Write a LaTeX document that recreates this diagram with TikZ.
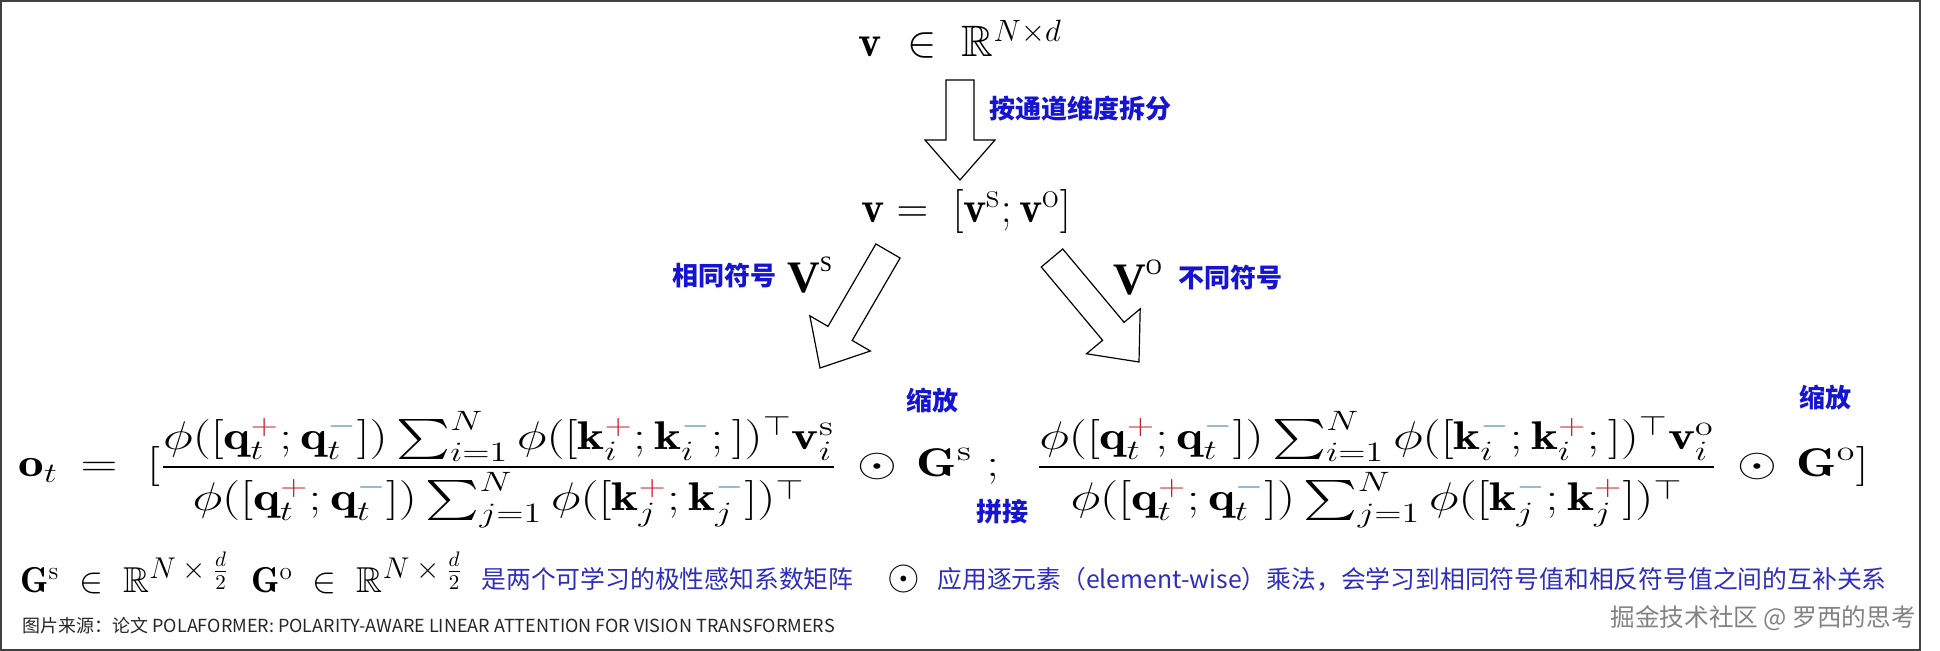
\documentclass[tikz,border=0pt]{standalone}
\usepackage{fix-cm}
\usepackage{amsmath,amssymb}
\usepackage{fontspec}
\usepackage{tikz}
\usetikzlibrary{calc,positioning}
\usepackage{xcolor}
\newfontfamily\cjk{Noto Sans CJK SC}
\newfontfamily\timesr{Liberation Serif}
\definecolor{labelblue}{RGB}{20,20,210}
\definecolor{textblue}{RGB}{45,45,190}
\definecolor{plusred}{RGB}{200,35,45}
\definecolor{minusblue}{RGB}{70,130,185}
\definecolor{markgray}{RGB}{130,130,130}
\newcommand{\pl}{{\color{plusred}+}}
\newcommand{\mn}{{\color{minusblue}-}}
\newcommand{\halfdim}{\mbox{\fontsize{15}{15}\selectfont$N\times\frac{d}{2}$}}
\newcommand{\bigsup}[1]{\mbox{\fontsize{18}{18}\selectfont #1}}
\newcommand{\hollowarrow}[2]{%
  \coordinate (headbase) at ($(#2)!20pt!(#1)$);
  \draw[arrowbody] ($(#1)!7pt!90:(#2)$) -- ($(headbase)!7pt!90:(#2)$)
    -- ($(headbase)!17.5pt!90:(#2)$) -- (#2)
    -- ($(headbase)!17.5pt!-90:(#2)$) -- ($(headbase)!7pt!-90:(#2)$)
    -- ($(#1)!7pt!-90:(#2)$) -- cycle;}

\begin{document}
\begin{tikzpicture}[x=0.5pt,y=-0.5pt,node distance=5pt,
  formula/.style={inner sep=0pt,font=\fontsize{22}{26}\selectfont},
  bigformula/.style={inner sep=0pt,font=\fontsize{20}{24}\selectfont},
  cnlabel/.style={inner sep=0pt,text=labelblue,font=\cjk\bfseries\fontsize{13}{15}\selectfont},
  vlabel/.style={inner sep=0pt,font=\timesr\bfseries\fontsize{22.5}{24}\selectfont},
  note/.style={inner sep=0pt,text=textblue,font=\cjk\fontsize{12.4}{15}\selectfont},
  arrowbody/.style={draw=black,fill=white,line width=0.6pt,line join=miter},
  frameline/.style={draw=black!75,line width=0.8pt}]
\useasboundingbox (0,0) rectangle (1940,651);
\draw[frameline] (1,1) rectangle (1920,650);

% value matrix and its split
\node[formula,anchor=base] (vdim) at (960,57) {$\mathbf{v}\ \in\ \mathbb{R}^{N\times d}$};
\node[formula,anchor=base] (vsplit) at (966,223) {$\mathbf{v}=\;[\mathbf{v}^{\bigsup{s}};\mathbf{v}^{\bigsup{o}}]$};
\coordinate (splittail) at (960,80);
\coordinate (splittip) at (960,180);
\hollowarrow{splittail}{splittip}
\node[cnlabel] (splitlbl) at (1080,109) {按通道维度拆分};

% the two halves
\node[vlabel,anchor=base west] (vs) at (787,293) {V\raisebox{10.5pt}{\fontsize{11}{11}\selectfont\mdseries S}};
\node[vlabel,anchor=base west] (vo) at (1113,295) {V\raisebox{10pt}{\fontsize{11}{11}\selectfont\mdseries O}};
\node[cnlabel,left=of vs] (samelbl) {相同符号};
\node[cnlabel,right=8pt of vo] (difflbl) {不同符号};
\coordinate (sametail) at (888,251);
\coordinate (sametip) at (820,368);
\coordinate (difftail) at (1052,258);
\coordinate (difftip) at (1139,362);
\hollowarrow{sametail}{sametip}
\hollowarrow{difftail}{difftip}

% polarity-aware output
\node[bigformula,anchor=base west] (ot) at (18,477) {\scalebox{1.28}[1]{$\displaystyle
  \mathbf{o}_t\,=\ [\frac{\phi([\mathbf{q}_t^{\pl};\mathbf{q}_t^{\mn}])\sum_{i=1}^{N}\phi([\mathbf{k}_i^{\pl};\mathbf{k}_i^{\mn};])^{\top}\mathbf{v}_i^{\mathrm{s}}}
  {\phi([\mathbf{q}_t^{\pl};\mathbf{q}_t^{\mn}])\sum_{j=1}^{N}\phi([\mathbf{k}_j^{\pl};\mathbf{k}_j^{\mn}])^{\top}}\,\odot\,\mathbf{G}^{\mathrm{s}}\;;\;\;
  \frac{\phi([\mathbf{q}_t^{\pl};\mathbf{q}_t^{\mn}])\sum_{i=1}^{N}\phi([\mathbf{k}_i^{\mn};\mathbf{k}_i^{\pl};])^{\top}\mathbf{v}_i^{\mathrm{o}}}
  {\phi([\mathbf{q}_t^{\pl};\mathbf{q}_t^{\mn}])\sum_{j=1}^{N}\phi([\mathbf{k}_j^{\mn};\mathbf{k}_j^{\pl}])^{\top}}\,\odot\,\mathbf{G}^{\mathrm{o}}]$}};
\node[cnlabel] (scales) at (932,401) {缩放};
\node[cnlabel] (scaleo) at (1825,398) {缩放};
\node[cnlabel] (concat) at (1002,512) {拼接};

% notes
\node[inner sep=0pt,anchor=base west,font=\fontsize{18}{20}\selectfont] (gdef) at (20,593)
  {$\mathbf{G}^{\mathrm{s}}\;\in\;\mathbb{R}^{\halfdim}\ \ \mathbf{G}^{\mathrm{o}}\;\in\;\mathbb{R}^{\halfdim}$};
\node[note,anchor=base west] (gnote) at (481,589) {是两个可学习的极性感知系数矩阵};
\node[inner sep=0pt,anchor=base,font=\fontsize{21}{22}\selectfont] (odotsym) at (904,590) {$\odot$};
\node[note,anchor=base west] (odotnote) at (937,589) {应用逐元素（element-wise）乘法，会学习到相同符号值和相反符号值之间的互补关系};
\node[inner sep=0pt,anchor=base west,text=black!85,font=\cjk\fontsize{9}{11}\selectfont] (srcline) at (22,633)
  {图片来源：论文 POLAFORMER: POLARITY-AWARE LINEAR ATTENTION FOR VISION TRANSFORMERS};
\node[inner sep=0pt,anchor=base east,text=markgray,font=\cjk\fontsize{12.3}{14}\selectfont] (mark) at (1916,627)
  {掘金技术社区 @ 罗西的思考};
\end{tikzpicture}
\end{document}
